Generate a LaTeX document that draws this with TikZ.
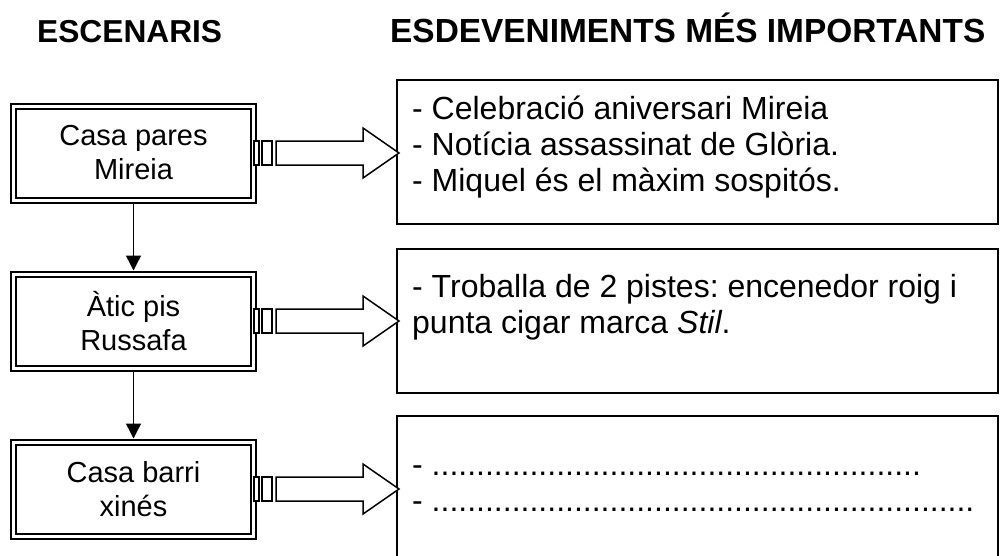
\documentclass[tikz,border=0pt]{standalone}
\usepackage{fontspec}
\setmainfont{Liberation Sans}
\usetikzlibrary{arrows.meta,calc}
\frenchspacing
\begin{document}
\begin{tikzpicture}[x=1pt,y=-1pt,
  every node/.style={font=\fontsize{29}{34}\selectfont},
  scenebox/.style={draw,line width=2pt,double,double distance=3pt,minimum width=240pt,minimum height=94pt,inner sep=0pt,outer sep=3.5pt,align=center},
  eventbox/.style={draw,line width=1.8pt,minimum width=601pt,minimum height=144pt,inner sep=0pt,outer sep=0pt},
  header/.style={anchor=base west,inner sep=0pt},
  evtext/.style={anchor=base west,inner sep=0pt,font=\fontsize{32}{36}\selectfont},
  downarrow/.style={line width=1.4pt,-{Triangle[width=15pt,length=15pt]}},
  blockarrow/.style={line width=1.5pt,fill=white,line join=miter}
]
\useasboundingbox (0,0) rectangle (1001,555);
\node[header,font=\fontsize{31.7}{36}\selectfont\bfseries] (h1) at (37,42) {ESCENARIS};
\node[header,font=\fontsize{33.4}{36}\selectfont\bfseries] (h2) at (390,42) {ESDEVENIMENTS MÉS IMPORTANTS};

\node[scenebox] (b1) at (133.5,153) {Casa pares\\Mireia};
\node[scenebox] (b2) at (133.5,321) {Àtic pis\\Russafa};
\node[scenebox] (b3) at (133.5,489) {Casa barri\\xinés};

\node[eventbox] (e1) at (697.5,152) {};
\node[eventbox] (e2) at (697.5,321) {};
\node[eventbox] (e3) at (697.5,488) {};

\node[evtext] (t11) at (412,119) {- Celebració aniversari Mireia};
\node[evtext] (t12) at (412,155) {- Notícia assassinat de Glòria.};
\node[evtext] (t13) at (412,191) {- Miquel és el màxim sospitós.};
\node[evtext] (t21) at (412,297) {- Troballa de 2 pistes: encenedor roig i};
\node[evtext] (t22) at (412,333) {punta cigar marca \textit{Stil}.};
\node[evtext] (t31) at (412,475) {- .......................................................};
\node[evtext] (t32) at (412,511) {- .............................................................};

\draw[downarrow] (b1.south) -- (b2.north);
\draw[downarrow] (b2.south) -- (b3.north);

\foreach \b/\e in {b1/e1,b2/e2,b3/e3}{
  \begin{scope}[shift={(\b.east)}]
    \draw[blockarrow] (-3,-12) rectangle (2,12);
    \draw[blockarrow] (5,-12) rectangle (15,12);
    \draw[blockarrow] (19,-12) -- (106,-12) -- (106,-25) -- (142,0) -- (106,25) -- (106,12) -- (19,12) -- cycle;
  \end{scope}
}
\end{tikzpicture}
\end{document}
